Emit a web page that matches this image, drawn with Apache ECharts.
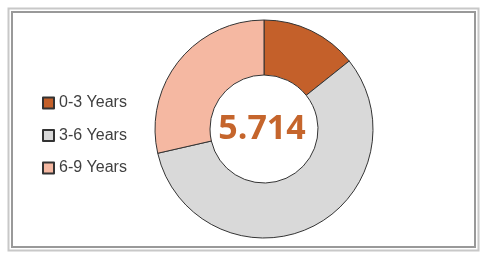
<!DOCTYPE html>
<html>
<head>
    <meta charset="utf-8">
    <title>Years</title>
    <script src="https://cdn.jsdelivr.net/npm/echarts@6/dist/echarts.min.js"></script>
    <style>
        html, body { margin: 0; padding: 0; background: #fff; }
        #chart1 { width: 481px; height: 256px; }
    </style>
</head>
<body>
<div id="chart1"></div>
<script type="text/javascript">
    // data
    var categories = ['0-3 Years', '3-6 Years', '6-9 Years'];
    var counts = [1, 4, 2];
    var colors = ['#C4602A', '#D9D9D9', '#F5B8A2'];
    var centerValue = '5.714';

    var myChart1 = echarts.init(document.getElementById('chart1'));

    var pieData = categories.map(function (name, i) {
        return { name: name, value: counts[i], itemStyle: { color: colors[i] } };
    });

    myChart1.setOption({
        animation: false,
        legend: {
            orient: 'vertical',
            left: 37,
            top: 90,
            itemWidth: 11,
            itemHeight: 11,
            itemGap: 16.5,
            icon: 'rect',
            data: categories,
            textStyle: {
                fontFamily: 'Liberation Sans',
                fontSize: 16,
                color: '#404040'
            }
        },
        graphic: [
            // double frame
            { type: 'rect', shape: { x: 8.5, y: 8.5, width: 470, height: 242 },
              style: { fill: 'none', stroke: '#c8c8c8', lineWidth: 2 } },
            { type: 'rect', shape: { x: 12, y: 12, width: 463, height: 235 },
              style: { fill: 'none', stroke: '#999', lineWidth: 2 } },
            { type: 'text', x: 262, y: 129,
              style: {
                  text: centerValue,
                  fill: '#C5652C',
                  font: 'bold 34px "Open Sans"',
                  textAlign: 'center',
                  textVerticalAlign: 'middle'
              } }
        ],
        series: [{
            type: 'pie',
            center: [264, 129],
            radius: [54, 109],
            startAngle: 90,
            label: { show: false },
            labelLine: { show: false },
            emphasis: { disabled: true },
            itemStyle: { borderColor: '#333', borderWidth: 1 },
            data: pieData
        }]
    });
</script>
</body>
</html>
